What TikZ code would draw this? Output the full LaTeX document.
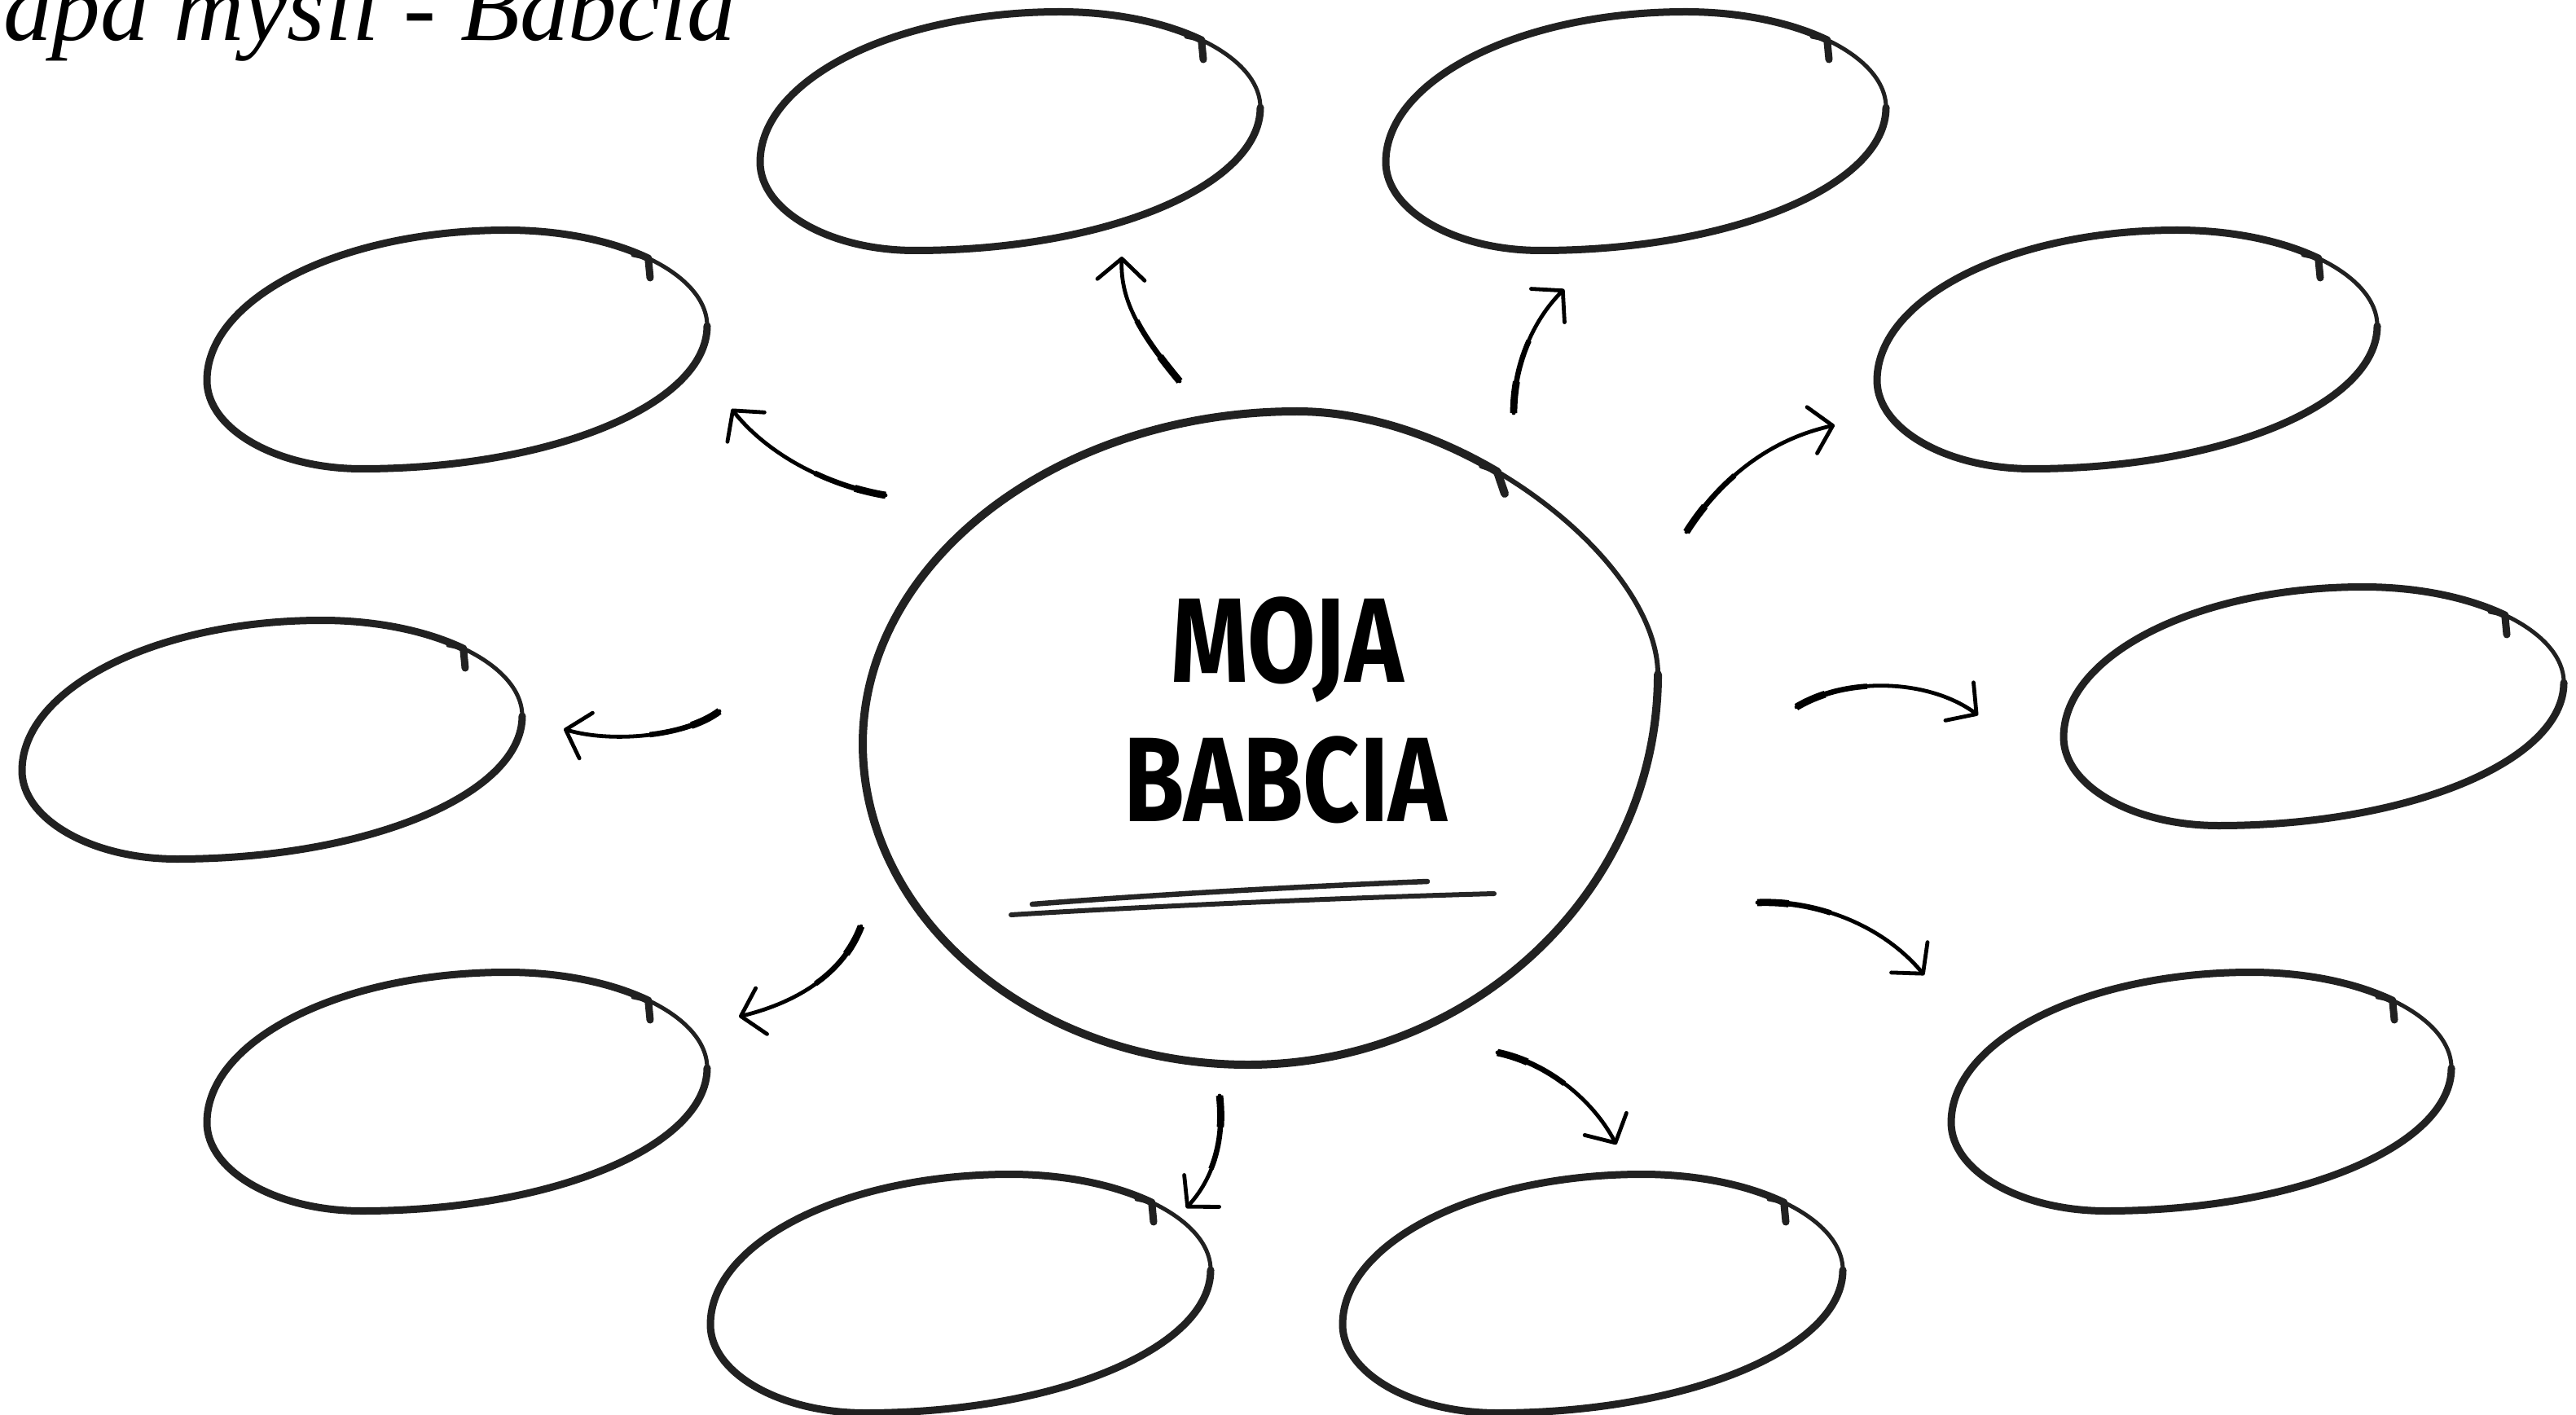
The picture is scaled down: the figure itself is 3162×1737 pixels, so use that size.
\documentclass[tikz,border=0pt]{standalone}
\usepackage{fontspec}
\setmainfont{Liberation Serif}
\newfontfamily\handfont{Fira Sans}[FakeStretch=0.82]
\usetikzlibrary{arrows.meta}
\tikzset{
  brush/.style={draw=black!87, line width=0.9mm, line cap=round, line join=round},
  thinbrush/.style={draw=black!87, line width=0.5mm, line cap=round, line join=round},
  bigbrush/.style={draw=black!87, line width=1.0mm, line cap=round, line join=round},
  arrowline/.style={draw=black, line width=0.48mm, line cap=round,
    -{Straight Barb[length=2.6mm, width=5.8mm, round]},
    preaction={draw, arrows=-, line width=0.66mm, dash pattern=on 26pt off 2000pt},
    preaction={draw, arrows=-, line width=0.88mm, dash pattern=on 11pt off 2000pt}},
  underline/.style={draw=black!85, line width=0.6mm, line cap=round},
  blob/.pic={
    \draw[brush] (234.7,-112) .. controls (190.15,-133.3) and (128.65,-146.5) .. (61,-146.5)
      .. controls (-141.4,-146.5) and (-307,-63.5) .. (-307,38)
      .. controls (-307,97.7) and (-221.5,146.5) .. (-117,146.5)
      .. controls (116,146.5) and (307,67.5) .. (307,-29);
    \draw[thinbrush] (307,-29) .. controls (307,-61.3) and (279.3,-90.7) .. (234.7,-112) -- (216,-116);
    \draw[brush] (234.7,-112) -- (237,-88);
  }
}
\begin{document}
\begin{tikzpicture}[x=0.1mm,y=-0.1mm]
\useasboundingbox (0,0) rectangle (3162,1737);
\fill[white] (0,0) rectangle (3162,1737);

% title
\node[anchor=base west, inner sep=0] (title) at (-96,50)
  {\fontsize{34}{40}\selectfont\itshape Mapa myśli - Babcia};

% ellipses
\coordinate (e1) at (1240,161);
\coordinate (e2) at (2008,161);
\coordinate (e3) at (561,429);
\coordinate (e4) at (2611,429);
\coordinate (e5) at (334,908);
\coordinate (e6) at (2840,867);
\coordinate (e7) at (561,1340);
\coordinate (e8) at (2702,1340);
\coordinate (e9) at (1179,1588);
\coordinate (e10) at (1955,1588);
\foreach \e in {e1,e2,e3,e4,e5,e6,e7,e8,e9,e10} {\pic at (\e) {blob};}

% central circle
\draw[bigbrush] (1837.8,579) .. controls (1762.7,534.6) and (1675.2,505) .. (1592,505)
  .. controls (1298.9,505) and (1059,688.6) .. (1059,913)
  .. controls (1059,1129.7) and (1271.9,1307) .. (1532,1307)
  .. controls (1808.7,1307) and (2035,1091.5) .. (2035,828);
\draw[thinbrush, line width=0.6mm] (2035,828) .. controls (2035,745.2) and (1950.4,645.5) .. (1837.8,579) -- (1818,572);
\draw[bigbrush] (1837.8,579) -- (1847,606);

\node[anchor=base, inner sep=0] (moja) at (1580,837)
  {\handfont\bfseries\fontsize{42}{50}\selectfont MOJA};
\node[anchor=base, inner sep=0] (babcia) at (1578,1008)
  {\handfont\bfseries\fontsize{42}{50}\selectfont BABCIA};

\coordinate (u1s) at (1267,1110);
\coordinate (u1e) at (1752,1082);
\coordinate (u2s) at (1241,1123);
\coordinate (u2e) at (1834,1097);
\draw[underline, line width=0.65mm] (u1s) .. controls (1420,1098) and (1600,1088) .. (u1e);
\draw[underline] (u2s) .. controls (1420,1112) and (1650,1102) .. (u2e);

% arrows
\coordinate (a1s) at (1448,468);  \coordinate (a1e) at (1377,315);
\coordinate (a2s) at (1858,507);  \coordinate (a2e) at (1920,355);
\coordinate (a3s) at (1087,608);  \coordinate (a3e) at (898,502);
\coordinate (a4s) at (2070,653);  \coordinate (a4e) at (2252,522);
\coordinate (a5s) at (883,873);   \coordinate (a5e) at (692,895);
\coordinate (a6s) at (2205,868);  \coordinate (a6e) at (2428,878);
\coordinate (a7s) at (1057,1137); \coordinate (a7e) at (907,1248);
\coordinate (a8s) at (2157,1108); \coordinate (a8e) at (2362,1197);
\coordinate (a9s) at (1497,1345); \coordinate (a9e) at (1456,1483);
\coordinate (a10s) at (1838,1292); \coordinate (a10e) at (1984,1405);

\draw[arrowline] (a1s) .. controls (1400,410) and (1375,370) .. (a1e);
\draw[arrowline] (a2s) .. controls (1858,450) and (1880,395) .. (a2e);
\draw[arrowline] (a3s) .. controls (1010,595) and (940,555) .. (a3e);
\draw[arrowline] (a4s) .. controls (2110,590) and (2170,540) .. (a4e);
\draw[arrowline] (a5s) .. controls (840,905) and (750,912) .. (a5e);
\draw[arrowline] (a6s) .. controls (2270,829) and (2370,835) .. (a6e);
\draw[arrowline] (a7s) .. controls (1035,1195) and (980,1230) .. (a7e);
\draw[arrowline] (a8s) .. controls (2230,1105) and (2310,1135) .. (a8e);
\draw[arrowline] (a9s) .. controls (1502,1390) and (1495,1440) .. (a9e);
\draw[arrowline] (a10s) .. controls (1900,1305) and (1955,1350) .. (a10e);
\end{tikzpicture}
\end{document}
